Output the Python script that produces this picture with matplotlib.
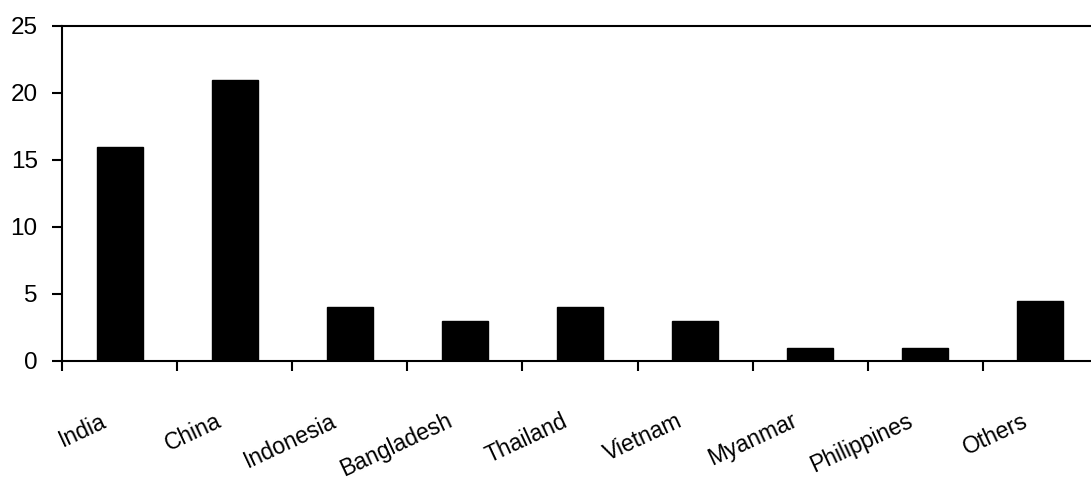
import matplotlib.pyplot as plt
import numpy as np
from matplotlib import font_manager

countries = ['India', 'China', 'Indonesia', 'Bangladesh', 'Thailand',
             'Vietnam', 'Myanmar', 'Philippines', 'Others']
values = [16, 21, 4, 3, 4, 3, 1, 1, 4.5]
yticks = [0, 5, 10, 15, 20, 25]

names = {f.name for f in font_manager.fontManager.ttflist}
font = 'Liberation Sans Narrow' if 'Liberation Sans Narrow' in names else 'Liberation Sans'
plt.rcParams['font.family'] = [font, 'DejaVu Sans']

fig = plt.figure(figsize=(10.91, 4.83), dpi=100)
ax = fig.add_axes([0.0568, 0.2526, 0.9496, 0.6936])

x = np.arange(len(countries))
ax.bar(x, values, width=0.4, color='black', edgecolor='black')

ax.set_xlim(-0.5, len(countries) - 0.5)
ax.set_ylim(0, 25)
ax.set_yticks(yticks)
ax.set_xticks(np.arange(len(countries) + 1) - 0.5)
ax.set_xticklabels([])

for side in ['left', 'bottom', 'top']:
    ax.spines[side].set_linewidth(1.5)
ax.spines['right'].set_visible(False)

ax.tick_params(axis='y', direction='out', length=7.5, width=1.5, labelsize=17.5, pad=10)
ax.tick_params(axis='x', direction='out', length=7, width=1.5)

for i, name in enumerate(countries):
    ax.text(i - 0.08, -3.6, name, rotation=25, ha='right', va='top',
            fontsize=16.5)

fig.savefig('out.png', dpi=100)
